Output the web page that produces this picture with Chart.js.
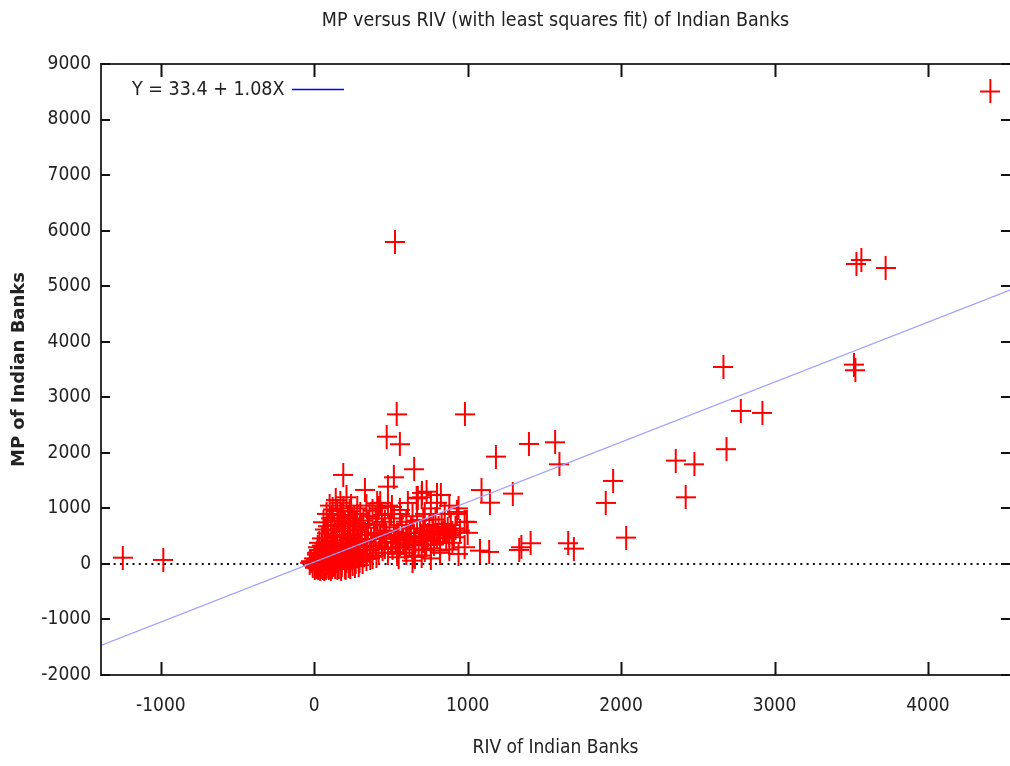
<!DOCTYPE html>
<html><head><meta charset="utf-8">
<script src="https://cdn.jsdelivr.net/npm/chart.js@4.4.1/dist/chart.umd.min.js"></script>
<style>html,body{margin:0;padding:0;background:#fff;}canvas{display:block;}</style>
</head><body>
<canvas id="c" width="1010" height="766"></canvas>
<script>
const chartTitle = 'MP versus RIV (with least squares fit) of Indian Banks';
const xAxisTitle = 'RIV of Indian Banks';
const yAxisTitle = 'MP of Indian Banks';
const fitLabel = 'Y = 33.4 + 1.08X';
const fitIntercept = 33.4;
const fitSlope = 1.08;
const xRange = [-1390, 4535];
const yRange = [-2000, 9000];
const xTicks = [-1000, 0, 1000, 2000, 3000, 4000];
const yTicks = [-2000, -1000, 0, 1000, 2000, 3000, 4000, 5000, 6000, 7000, 8000, 9000];

const riv = [
  -1248,-984,4407,526,3534,3566,3724,2667,3518,3527,
  2780,2921,2687,2356,2478,2421,1948,1900,2033,1184,
  1399,1570,1598,1294,1145,1090,1140,1080,1336,1350,
  1410,1655,1692,537,982,472,558,651,189,519,
  330,480,825,732,667,410,675,800,702,610,
  10,20,25,30,35,40,45,50,55,60,
  65,70,75,80,85,90,95,100,105,110,
  115,120,125,130,135,140,145,150,12,18,
  28,38,48,58,68,78,88,98,108,118,
  128,138,148,5,15,22,33,42,52,62,
  72,82,92,102,112,122,132,142,8,16,
  26,36,46,56,66,76,86,96,106,116,
  126,136,146,-20,-10,0,-30,3,60,80,
  100,110,130,140,150,160,170,180,190,200,
  210,220,230,240,250,90,120,165,195,70,
  235,155,160,165,170,175,180,185,190,195,
  200,205,210,215,220,225,230,235,240,245,
  250,255,260,265,270,275,280,285,290,295,
  300,310,320,330,340,350,360,370,380,390,
  400,410,420,430,440,450,175,205,235,265,
  290,315,345,365,385,405,425,445,180,220,
  260,300,340,260,280,300,320,340,360,380,
  400,420,440,460,480,500,270,350,430,460,
  470,480,490,500,510,520,530,540,550,560,
  570,580,590,600,610,620,630,640,650,660,
  670,680,690,700,520,560,600,640,550,600,
  650,710,720,730,740,750,760,770,780,790,
  800,810,820,830,840,850,860,870,880,890,
  900,910,920,930,950,980,760,800,880,940,
  720,700,760,820,900,539,590,539,656,558,
  930,995,710,775,851,819,734,623,506,1000,
  700,760,820,880,940,980,640,720
];
const mp = [
  113,72,8506,5796,5400,5472,5328,3546,3588,3487,
  2754,2718,2066,1860,1794,1200,1494,1098,474,1932,
  2160,2190,1794,1266,1103,1330,216,240,252,300,
  372,372,276,2693,2693,2291,2155,1705,1602,1560,
  1332,1392,1242,1301,1181,1091,1190,1240,1278,1098,
  -40,30,-80,120,-20,60,200,-60,10,140,
  -90,260,40,-30,180,90,-70,320,20,150,
  -50,420,80,230,-10,350,110,-80,90,170,
  250,-100,330,80,-40,400,20,210,-90,280,
  30,170,480,10,-60,300,380,-30,460,30,
  130,550,-50,70,600,-20,500,60,50,200,
  -20,140,90,-80,370,-70,300,150,-30,40,
  340,-60,260,50,-30,100,20,-70,750,900,
  1050,820,700,1150,950,780,1100,880,1000,720,
  1200,850,950,1050,780,680,980,640,760,620,
  680,40,-50,180,90,310,-20,220,420,120,
  -60,260,50,380,160,-30,480,90,300,200,
  -10,540,120,360,30,240,620,150,410,60,
  300,520,180,400,90,650,250,450,130,560,
  320,700,200,480,380,600,-90,-80,-60,-40,
  -20,40,250,100,330,150,560,270,520,600,
  450,680,520,820,1000,900,780,1050,860,960,
  820,1000,880,760,1050,900,740,720,1100,300,
  520,200,660,400,280,580,450,180,520,350,
  700,420,300,560,480,380,640,260,500,420,
  780,350,560,460,820,900,760,860,120,200,
  150,420,600,340,520,700,430,580,350,800,
  480,640,400,720,550,900,460,620,520,700,
  560,480,640,900,600,760,1000,1100,1050,1000,
  900,1200,280,240,380,522,342,216,126,972,
  936,756,792,666,576,378,468,558,1026,560,
  150,100,200,260,180,300,60,250
];

const FONT = '"DejaVu Sans Condensed", "DejaVu Sans", sans-serif';
const TEXT = '#222';

function makeCross(w, h, color) {
  const c = document.createElement('canvas');
  c.width = w; c.height = h;
  const g = c.getContext('2d');
  g.strokeStyle = color; g.lineWidth = 2;
  g.beginPath();
  g.moveTo(0, h / 2); g.lineTo(w, h / 2);
  g.moveTo(w / 2, 0); g.lineTo(w / 2, h);
  g.stroke();
  return c;
}
const crossImg = makeCross(20, 24, '#ff0000');

const points = riv.map((v, i) => ({x: v, y: mp[i]}));
const fitPoints = xRange.map(v => ({x: v, y: fitIntercept + fitSlope * v}));
const zeroPoints = xRange.map(v => ({x: v, y: 0}));

function fixBox(size, horizontal) {
  return s => {
    if (horizontal) s.height = size; else s.width = size;
    s.paddingLeft = 0; s.paddingRight = 0; s.paddingTop = 0; s.paddingBottom = 0;
  };
}
function setTicks(values) {
  return s => { s.ticks = values.map(v => ({value: v})); };
}

const framePlugin = {
  id: 'frame',
  afterDraw(chart) {
    const {ctx, chartArea: a, scales: {x, y}} = chart;
    ctx.save();
    ctx.strokeStyle = '#333';
    ctx.lineWidth = 2;
    ctx.beginPath();
    ctx.moveTo(a.right + 2, a.top); ctx.lineTo(a.left, a.top);
    ctx.lineTo(a.left, a.bottom); ctx.lineTo(a.right + 2, a.bottom);
    ctx.stroke();
    ctx.strokeStyle = '#111';
    ctx.beginPath();
    x.ticks.forEach(t => {
      const px = Math.round(x.getPixelForValue(t.value)) + 0.5;
      ctx.moveTo(px, a.bottom); ctx.lineTo(px, a.bottom - 13);
      ctx.moveTo(px, a.top); ctx.lineTo(px, a.top + 13);
    });
    y.ticks.forEach(t => {
      const py = Math.round(y.getPixelForValue(t.value));
      ctx.moveTo(a.left, py); ctx.lineTo(a.left + 9, py);
      ctx.moveTo(a.right, py); ctx.lineTo(a.right - 9, py);
    });
    ctx.stroke();
    // legend
    ctx.font = '19.5px ' + FONT;
    ctx.fillStyle = TEXT;
    ctx.textAlign = 'left';
    ctx.textBaseline = 'middle';
    ctx.fillText(fitLabel, 132, 90);
    ctx.strokeStyle = '#0000ff';
    ctx.lineWidth = 1.5;
    ctx.beginPath();
    ctx.moveTo(292, 89.5); ctx.lineTo(344, 89.5);
    ctx.stroke();
    ctx.restore();
  }
};

new Chart(document.getElementById('c'), {
  type: 'scatter',
  data: {
    datasets: [
      {type: 'line', label: fitLabel, data: fitPoints, borderColor: '#a0a0ff', borderWidth: 1.2, pointRadius: 0, order: 0},
      {label: 'banks', data: points, pointStyle: crossImg, pointRadius: 10, order: 1},
      {type: 'line', label: 'zero', data: zeroPoints, borderColor: '#111', borderWidth: 2, borderDash: [2, 4.3], pointRadius: 0, order: 2}
    ]
  },
  options: {
    responsive: false,
    animation: false,
    events: [],
    layout: {padding: 0, autoPadding: false},
    plugins: {legend: {display: false}, tooltip: {enabled: false}, title: {display: false}},
    scales: {
      x: {
        type: 'linear', position: 'bottom', min: xRange[0], max: xRange[1],
        afterFit: fixBox(91, true),
        afterBuildTicks: setTicks(xTicks),
        grid: {display: false, drawTicks: false},
        border: {display: false},
        ticks: {padding: 20, color: TEXT, font: {family: FONT, size: 19}, maxRotation: 0, autoSkip: false, callback: v => String(v)},
        title: {display: true, text: xAxisTitle, color: TEXT, font: {family: FONT, size: 19}, padding: {top: 0, bottom: 7}}
      },
      x2: {
        type: 'linear', position: 'top', min: xRange[0], max: xRange[1],
        afterFit: fixBox(64, true),
        grid: {display: false, drawTicks: false},
        border: {display: false},
        ticks: {display: false},
        title: {display: true, text: chartTitle, color: TEXT, font: {family: FONT, size: 19.5}, padding: {top: 9, bottom: 0}}
      },
      y: {
        type: 'linear', position: 'left', min: yRange[0], max: yRange[1],
        afterFit: fixBox(101, false),
        afterBuildTicks: setTicks(yTicks),
        grid: {display: false, drawTicks: false},
        border: {display: false},
        ticks: {padding: 10, color: TEXT, font: {family: FONT, size: 19}, autoSkip: false, callback: v => String(v)},
        title: {display: true, text: yAxisTitle, color: TEXT, font: {family: '"DejaVu Sans", sans-serif', size: 18, weight: 'bold'}, padding: {top: 9, bottom: 0}}
      }
    }
  },
  plugins: [framePlugin]
});
</script>
</body></html>
